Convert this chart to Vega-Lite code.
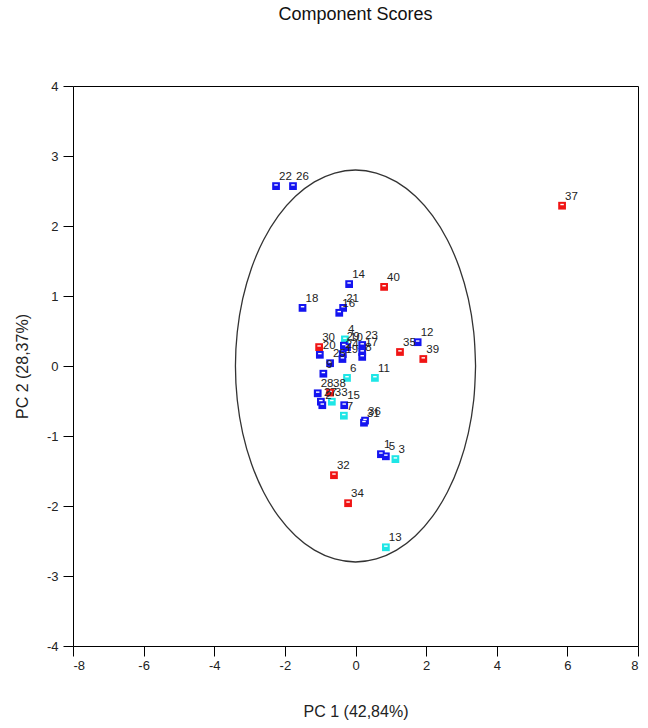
{
  "$schema": "https://vega.github.io/schema/vega-lite/v6.json",
  "autosize": {"type": "none"},
  "padding": {"left": 73, "top": 86, "right": 10, "bottom": 82},
  "width": 565,
  "height": 560,
  "background": "white",
  "config": {
    "font": "Liberation Sans",
    "view": {"stroke": "black", "strokeWidth": 1},
    "axis": {"grid": false, "domain": false, "tickColor": "black", "labelColor": "#222", "titleColor": "#222", "labelFontSize": 13, "titleFontSize": 16, "titleFontWeight": "normal", "labelExpr": "'' + datum.value"}
  },
  "title": {"text": "Component Scores", "fontSize": 18, "fontWeight": "normal", "color": "#111", "anchor": "middle", "offset": 56},
  "datasets": {
    "pts": [
      {"id": "1", "g": "blue", "x": 0.72, "y": -1.26},
      {"id": "2", "g": "blue", "x": -0.94, "y": -0.56},
      {"id": "3", "g": "cyan", "x": 1.13, "y": -1.33},
      {"id": "4", "g": "cyan", "x": -0.30, "y": 0.38},
      {"id": "5", "g": "blue", "x": 0.86, "y": -1.29},
      {"id": "6", "g": "cyan", "x": -0.24, "y": -0.17},
      {"id": "7", "g": "cyan", "x": -0.33, "y": -0.71},
      {"id": "8", "g": "blue", "x": 0.19, "y": 0.13},
      {"id": "9", "g": "blue", "x": -0.91, "y": -0.11},
      {"id": "10", "g": "blue", "x": -0.24, "y": 0.27},
      {"id": "11", "g": "cyan", "x": 0.55, "y": -0.17},
      {"id": "12", "g": "blue", "x": 1.76, "y": 0.34},
      {"id": "13", "g": "cyan", "x": 0.86, "y": -2.59},
      {"id": "14", "g": "blue", "x": -0.18, "y": 1.17},
      {"id": "15", "g": "blue", "x": -0.32, "y": -0.56},
      {"id": "16", "g": "blue", "x": -0.46, "y": 0.76},
      {"id": "17", "g": "blue", "x": 0.19, "y": 0.20},
      {"id": "18", "g": "blue", "x": -1.50, "y": 0.83},
      {"id": "19", "g": "blue", "x": -0.37, "y": 0.10},
      {"id": "20", "g": "blue", "x": -1.01, "y": 0.16},
      {"id": "21", "g": "blue", "x": -0.35, "y": 0.83},
      {"id": "22", "g": "blue", "x": -2.25, "y": 2.57},
      {"id": "23", "g": "blue", "x": 0.19, "y": 0.30},
      {"id": "24", "g": "blue", "x": -0.36, "y": 0.17},
      {"id": "25", "g": "blue", "x": -0.72, "y": 0.04},
      {"id": "26", "g": "blue", "x": -1.77, "y": 2.57},
      {"id": "27", "g": "blue", "x": -0.98, "y": -0.51},
      {"id": "28", "g": "blue", "x": -1.07, "y": -0.39},
      {"id": "29", "g": "blue", "x": -0.33, "y": 0.29},
      {"id": "30", "g": "red", "x": -1.03, "y": 0.27},
      {"id": "31", "g": "blue", "x": 0.24, "y": -0.81},
      {"id": "32", "g": "red", "x": -0.61, "y": -1.56},
      {"id": "33", "g": "cyan", "x": -0.67, "y": -0.51},
      {"id": "34", "g": "red", "x": -0.21, "y": -1.96},
      {"id": "35", "g": "red", "x": 1.26, "y": 0.20},
      {"id": "36", "g": "blue", "x": 0.27, "y": -0.78},
      {"id": "37", "g": "red", "x": 5.85, "y": 2.29},
      {"id": "38", "g": "red", "x": -0.72, "y": -0.38},
      {"id": "39", "g": "red", "x": 1.92, "y": 0.10},
      {"id": "40", "g": "red", "x": 0.81, "y": 1.13}
    ],
    "ell": [
      {"i": 0, "x": 3.4, "y": 0},
      {"i": 1, "x": 3.348, "y": 0.486},
      {"i": 2, "x": 3.195, "y": 0.958},
      {"i": 3, "x": 2.944, "y": 1.4},
      {"i": 4, "x": 2.604, "y": 1.8},
      {"i": 5, "x": 2.186, "y": 2.145},
      {"i": 6, "x": 1.7, "y": 2.425},
      {"i": 7, "x": 1.163, "y": 2.631},
      {"i": 8, "x": 0.59, "y": 2.757},
      {"i": 9, "x": 0, "y": 2.8},
      {"i": 10, "x": -0.59, "y": 2.757},
      {"i": 11, "x": -1.163, "y": 2.631},
      {"i": 12, "x": -1.7, "y": 2.425},
      {"i": 13, "x": -2.186, "y": 2.145},
      {"i": 14, "x": -2.604, "y": 1.8},
      {"i": 15, "x": -2.944, "y": 1.4},
      {"i": 16, "x": -3.195, "y": 0.958},
      {"i": 17, "x": -3.348, "y": 0.486},
      {"i": 18, "x": -3.4, "y": 0},
      {"i": 19, "x": -3.348, "y": -0.486},
      {"i": 20, "x": -3.195, "y": -0.958},
      {"i": 21, "x": -2.944, "y": -1.4},
      {"i": 22, "x": -2.604, "y": -1.8},
      {"i": 23, "x": -2.186, "y": -2.145},
      {"i": 24, "x": -1.7, "y": -2.425},
      {"i": 25, "x": -1.163, "y": -2.631},
      {"i": 26, "x": -0.59, "y": -2.757},
      {"i": 27, "x": 0, "y": -2.8},
      {"i": 28, "x": 0.59, "y": -2.757},
      {"i": 29, "x": 1.163, "y": -2.631},
      {"i": 30, "x": 1.7, "y": -2.425},
      {"i": 31, "x": 2.186, "y": -2.145},
      {"i": 32, "x": 2.604, "y": -1.8},
      {"i": 33, "x": 2.944, "y": -1.4},
      {"i": 34, "x": 3.195, "y": -0.958},
      {"i": 35, "x": 3.348, "y": -0.486},
      {"i": 36, "x": 3.4, "y": 0}
    ]
  },
  "encoding": {
    "x": {"field": "x", "type": "quantitative", "scale": {"domain": [-8, 8], "nice": false, "zero": false},
      "axis": {"values": [-8, -6, -4, -2, 0, 2, 4, 6, 8], "tickSize": 10, "labelPadding": 3, "title": "PC 1 (42,84%)", "titlePadding": 31}},
    "y": {"field": "y", "type": "quantitative", "scale": {"domain": [-4, 4], "nice": false, "zero": false},
      "axis": {"values": [-4, -3, -2, -1, 0, 1, 2, 3, 4], "tickSize": 10, "labelPadding": 5, "title": "PC 2 (28,37%)", "titlePadding": 16}}
  },
  "layer": [
    {
      "data": {"name": "ell"},
      "mark": {"type": "line", "color": "#333", "strokeWidth": 1.3, "interpolate": "cardinal"},
      "encoding": {"order": {"field": "i", "type": "quantitative"}}
    },
    {
      "data": {"name": "pts"},
      "mark": {"type": "point", "shape": "square", "filled": true, "size": 60, "opacity": 1},
      "encoding": {
        "color": {"field": "g", "type": "nominal", "legend": null,
          "scale": {"domain": ["blue", "red", "cyan"], "range": ["#1414f0", "#f01414", "#1ee6e6"]}}
      }
    },
    {
      "data": {"name": "pts"},
      "mark": {"type": "point", "shape": "M-0.45,-0.3L0.45,-0.3", "filled": false, "stroke": "white", "strokeWidth": 1.4, "size": 60, "opacity": 1}
    },
    {
      "data": {"name": "pts"},
      "mark": {"type": "text", "align": "left", "baseline": "alphabetic", "dx": 3, "dy": -6, "fontSize": 11.5, "color": "#222"},
      "encoding": {"text": {"field": "id"}}
    }
  ]
}
